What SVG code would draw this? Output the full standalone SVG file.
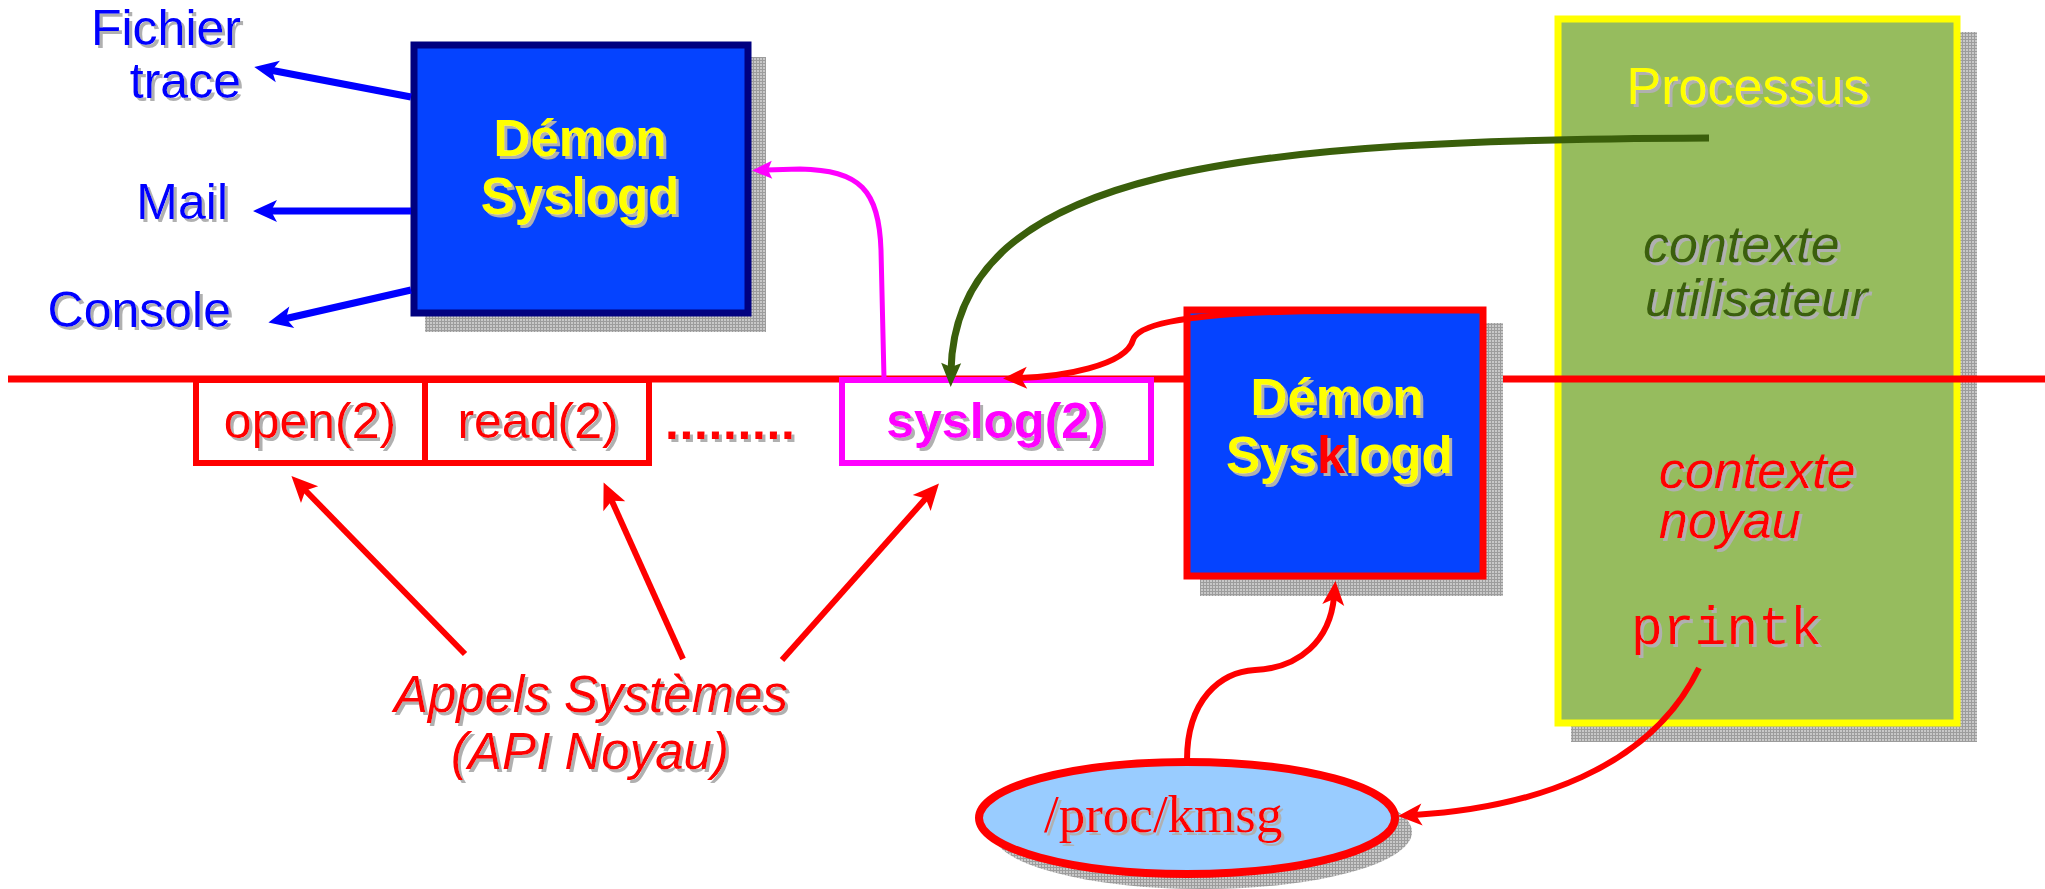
<svg xmlns="http://www.w3.org/2000/svg" width="2045" height="889" viewBox="0 0 2045 889">
<defs>
<style>
text{font-family:"Liberation Sans",Arial,sans-serif;filter:url(#ts)}
.blue{fill:#0000FF;font-size:50px}
.red{fill:#FF0000}
.yb{fill:#FFFF00;font-weight:bold;font-size:51px;text-anchor:middle}
.ys{fill:#FFFF00;font-weight:bold;font-size:51px}
.call{font-size:50px;fill:#FF0000;text-anchor:middle}
.it{font-style:italic;font-size:52px}
.shadow{fill:url(#hatch)}
.conn{fill:none}
</style>
<filter id="ts" x="-5%" y="-5%" width="115%" height="130%">
<feDropShadow dx="3" dy="3" stdDeviation="0" flood-color="#b0b0b0" flood-opacity="1"/>
</filter>
<pattern id="hatch" width="3" height="3" patternUnits="userSpaceOnUse">
<rect width="3" height="3" fill="#c8c8c8"/>
<path d="M0,0.5H3M0.5,0V3" stroke="#9c9c9c" stroke-width="1"/>
</pattern>
<marker id="ahBlue" markerUnits="userSpaceOnUse" markerWidth="30" markerHeight="30" viewBox="-2 -15 30 30" refX="8" refY="0" orient="auto">
<path d="M0,-11 L24,0 L0,11 L6,0 Z" fill="#0000FF"/>
</marker>
<marker id="ahRed" markerUnits="userSpaceOnUse" markerWidth="32" markerHeight="32" viewBox="-2 -16 32 32" refX="8" refY="0" orient="auto">
<path d="M0,-12 L26,0 L0,12 L6,0 Z" fill="#FF0000"/>
</marker>
<marker id="ahRedS" markerUnits="userSpaceOnUse" markerWidth="30" markerHeight="30" viewBox="-2 -15 30 30" refX="8" refY="0" orient="auto">
<path d="M0,-11 L24,0 L0,11 L6,0 Z" fill="#FF0000"/>
</marker>
<marker id="ahGreen" markerUnits="userSpaceOnUse" markerWidth="30" markerHeight="30" viewBox="-2 -15 30 30" refX="8" refY="0" orient="auto">
<path d="M0,-10 L24,0 L0,10 L4,0 Z" fill="#3A5F0B"/>
</marker>
<marker id="ahMag" markerUnits="userSpaceOnUse" markerWidth="26" markerHeight="26" viewBox="-2 -13 26 26" refX="6" refY="0" orient="auto">
<path d="M0,-9 L20,0 L0,9 L4,0 Z" fill="#FF00FF"/>
</marker>
</defs>

<rect width="2045" height="889" fill="#FFFFFF"/>

<!-- Processus (drawn under the kernel line) -->
<g id="node-processus">
<rect class="shadow" x="1571" y="32" width="406" height="710"/>
<rect x="1558" y="19" width="399" height="704" fill="#96BC5E" stroke="#FFFF00" stroke-width="7"/>
<text x="1748" y="104" text-anchor="middle" style="fill:#FFFF00;font-size:52px">Processus</text>
<text class="it" x="1643" y="262" style="fill:#3A5F0B">contexte</text>
<text class="it" x="1645" y="316" style="fill:#3A5F0B">utilisateur</text>
<text class="it red" x="1659" y="488">contexte</text>
<text class="it red" x="1659" y="538">noyau</text>
<text class="red" x="1631" y="644" style="font-family:'Liberation Mono','Courier New',monospace;font-size:53px">printk</text>
</g>

<!-- kernel boundary line -->
<g id="kernel-line">
<line x1="8" y1="379" x2="2045" y2="379" stroke="#FF0000" stroke-width="7"/>
</g>

<g id="node-syslogd">
<rect class="shadow" x="425" y="57" width="341" height="275"/>
<rect x="414" y="45" width="334" height="268" fill="#0543FF" stroke="#000080" stroke-width="7"/>
<text class="yb" x="580" y="156">Démon</text>
<text class="yb" x="580" y="214">Syslogd</text>
</g>

<g id="node-fichier">
<text class="blue" x="241" y="45" text-anchor="end">Fichier</text>
<text class="blue" x="241" y="98" text-anchor="end">trace</text>
</g>
<g id="node-mail">
<text class="blue" x="228" y="219" text-anchor="end">Mail</text>
</g>
<g id="node-console">
<text class="blue" x="231" y="327" text-anchor="end">Console</text>
</g>

<g id="node-open">
<rect x="196" y="380" width="229" height="83" fill="#FFFFFF" stroke="#FF0000" stroke-width="6"/>
<text class="call" x="310" y="438">open(2)</text>
</g>
<g id="node-read">
<rect x="425" y="380" width="224" height="83" fill="#FFFFFF" stroke="#FF0000" stroke-width="6"/>
<text class="call" x="538" y="438">read(2)</text>
</g>
<g id="node-dots">
<text class="red" x="665" y="439" style="font-size:50px;font-weight:bold;letter-spacing:0.6px">.........</text>
</g>
<g id="node-syslog">
<rect x="842" y="380" width="309" height="83" fill="#FFFFFF" stroke="#FF00FF" stroke-width="6"/>
<text class="call" x="996" y="438" style="fill:#FF00FF;font-weight:bold">syslog(2)</text>
</g>

<g id="node-sysklogd">
<rect class="shadow" x="1200" y="323" width="303" height="273"/>
<rect x="1187" y="310" width="296" height="266" fill="#0543FF" stroke="#FF0000" stroke-width="7"/>
<text class="yb" x="1337" y="415">Démon</text>
<text class="ys" x="1226" y="473">Sys</text>
<text class="ys" x="1317" y="473" style="fill:#FF0000">k</text>
<text class="ys" x="1345" y="473">logd</text>
</g>

<g id="node-kmsg">
<ellipse class="shadow" cx="1202" cy="832" rx="210" ry="57"/>
<ellipse cx="1187" cy="818" rx="208" ry="56" fill="#99CCFF" stroke="#FF0000" stroke-width="8"/>
<text class="red" x="1044" y="832" style="font-family:'Liberation Serif','Times New Roman',serif;font-size:53px">/proc/kmsg</text>
</g>

<g id="node-appels">
<text class="it red" x="591" y="712" text-anchor="middle" style="font-size:51px">Appels Systèmes</text>
<text class="it red" x="590" y="769" text-anchor="middle" style="font-size:51px">(API Noyau)</text>
</g>

<g id="connectors" class="conn">
<path d="M411 97 L270 70" stroke="#0000FF" stroke-width="7" marker-end="url(#ahBlue)"/>
<path d="M411 211 L269 211" stroke="#0000FF" stroke-width="7" marker-end="url(#ahBlue)"/>
<path d="M411 290 L284 319" stroke="#0000FF" stroke-width="7" marker-end="url(#ahBlue)"/>
<path d="M465 654 L304 489" stroke="#FF0000" stroke-width="6" marker-end="url(#ahRed)"/>
<path d="M683 659 L611 499" stroke="#FF0000" stroke-width="6" marker-end="url(#ahRed)"/>
<path d="M782 660 L927 497" stroke="#FF0000" stroke-width="6" marker-end="url(#ahRed)"/>
<path d="M884 378 L881 250 C879 190 860 170 800 169 L766 170" stroke="#FF00FF" stroke-width="5" marker-end="url(#ahMag)"/>
<path d="M1709 138 C1250 140 955 165 951 371" stroke="#3A5F0B" stroke-width="7" marker-end="url(#ahGreen)"/>
<path d="M1340 311 C1250 311 1140 316 1133 340 C1126 366 1060 377 1019 378" stroke="#FF0000" stroke-width="6" marker-end="url(#ahRedS)"/>
<path d="M1187 760 C1187 700 1220 672 1255 670 C1300 668 1330 640 1334 597" stroke="#FF0000" stroke-width="6" marker-end="url(#ahRedS)"/>
<path d="M1699 668 C1650 770 1530 808 1414 815" stroke="#FF0000" stroke-width="6" marker-end="url(#ahRedS)"/>
</g>
</svg>
